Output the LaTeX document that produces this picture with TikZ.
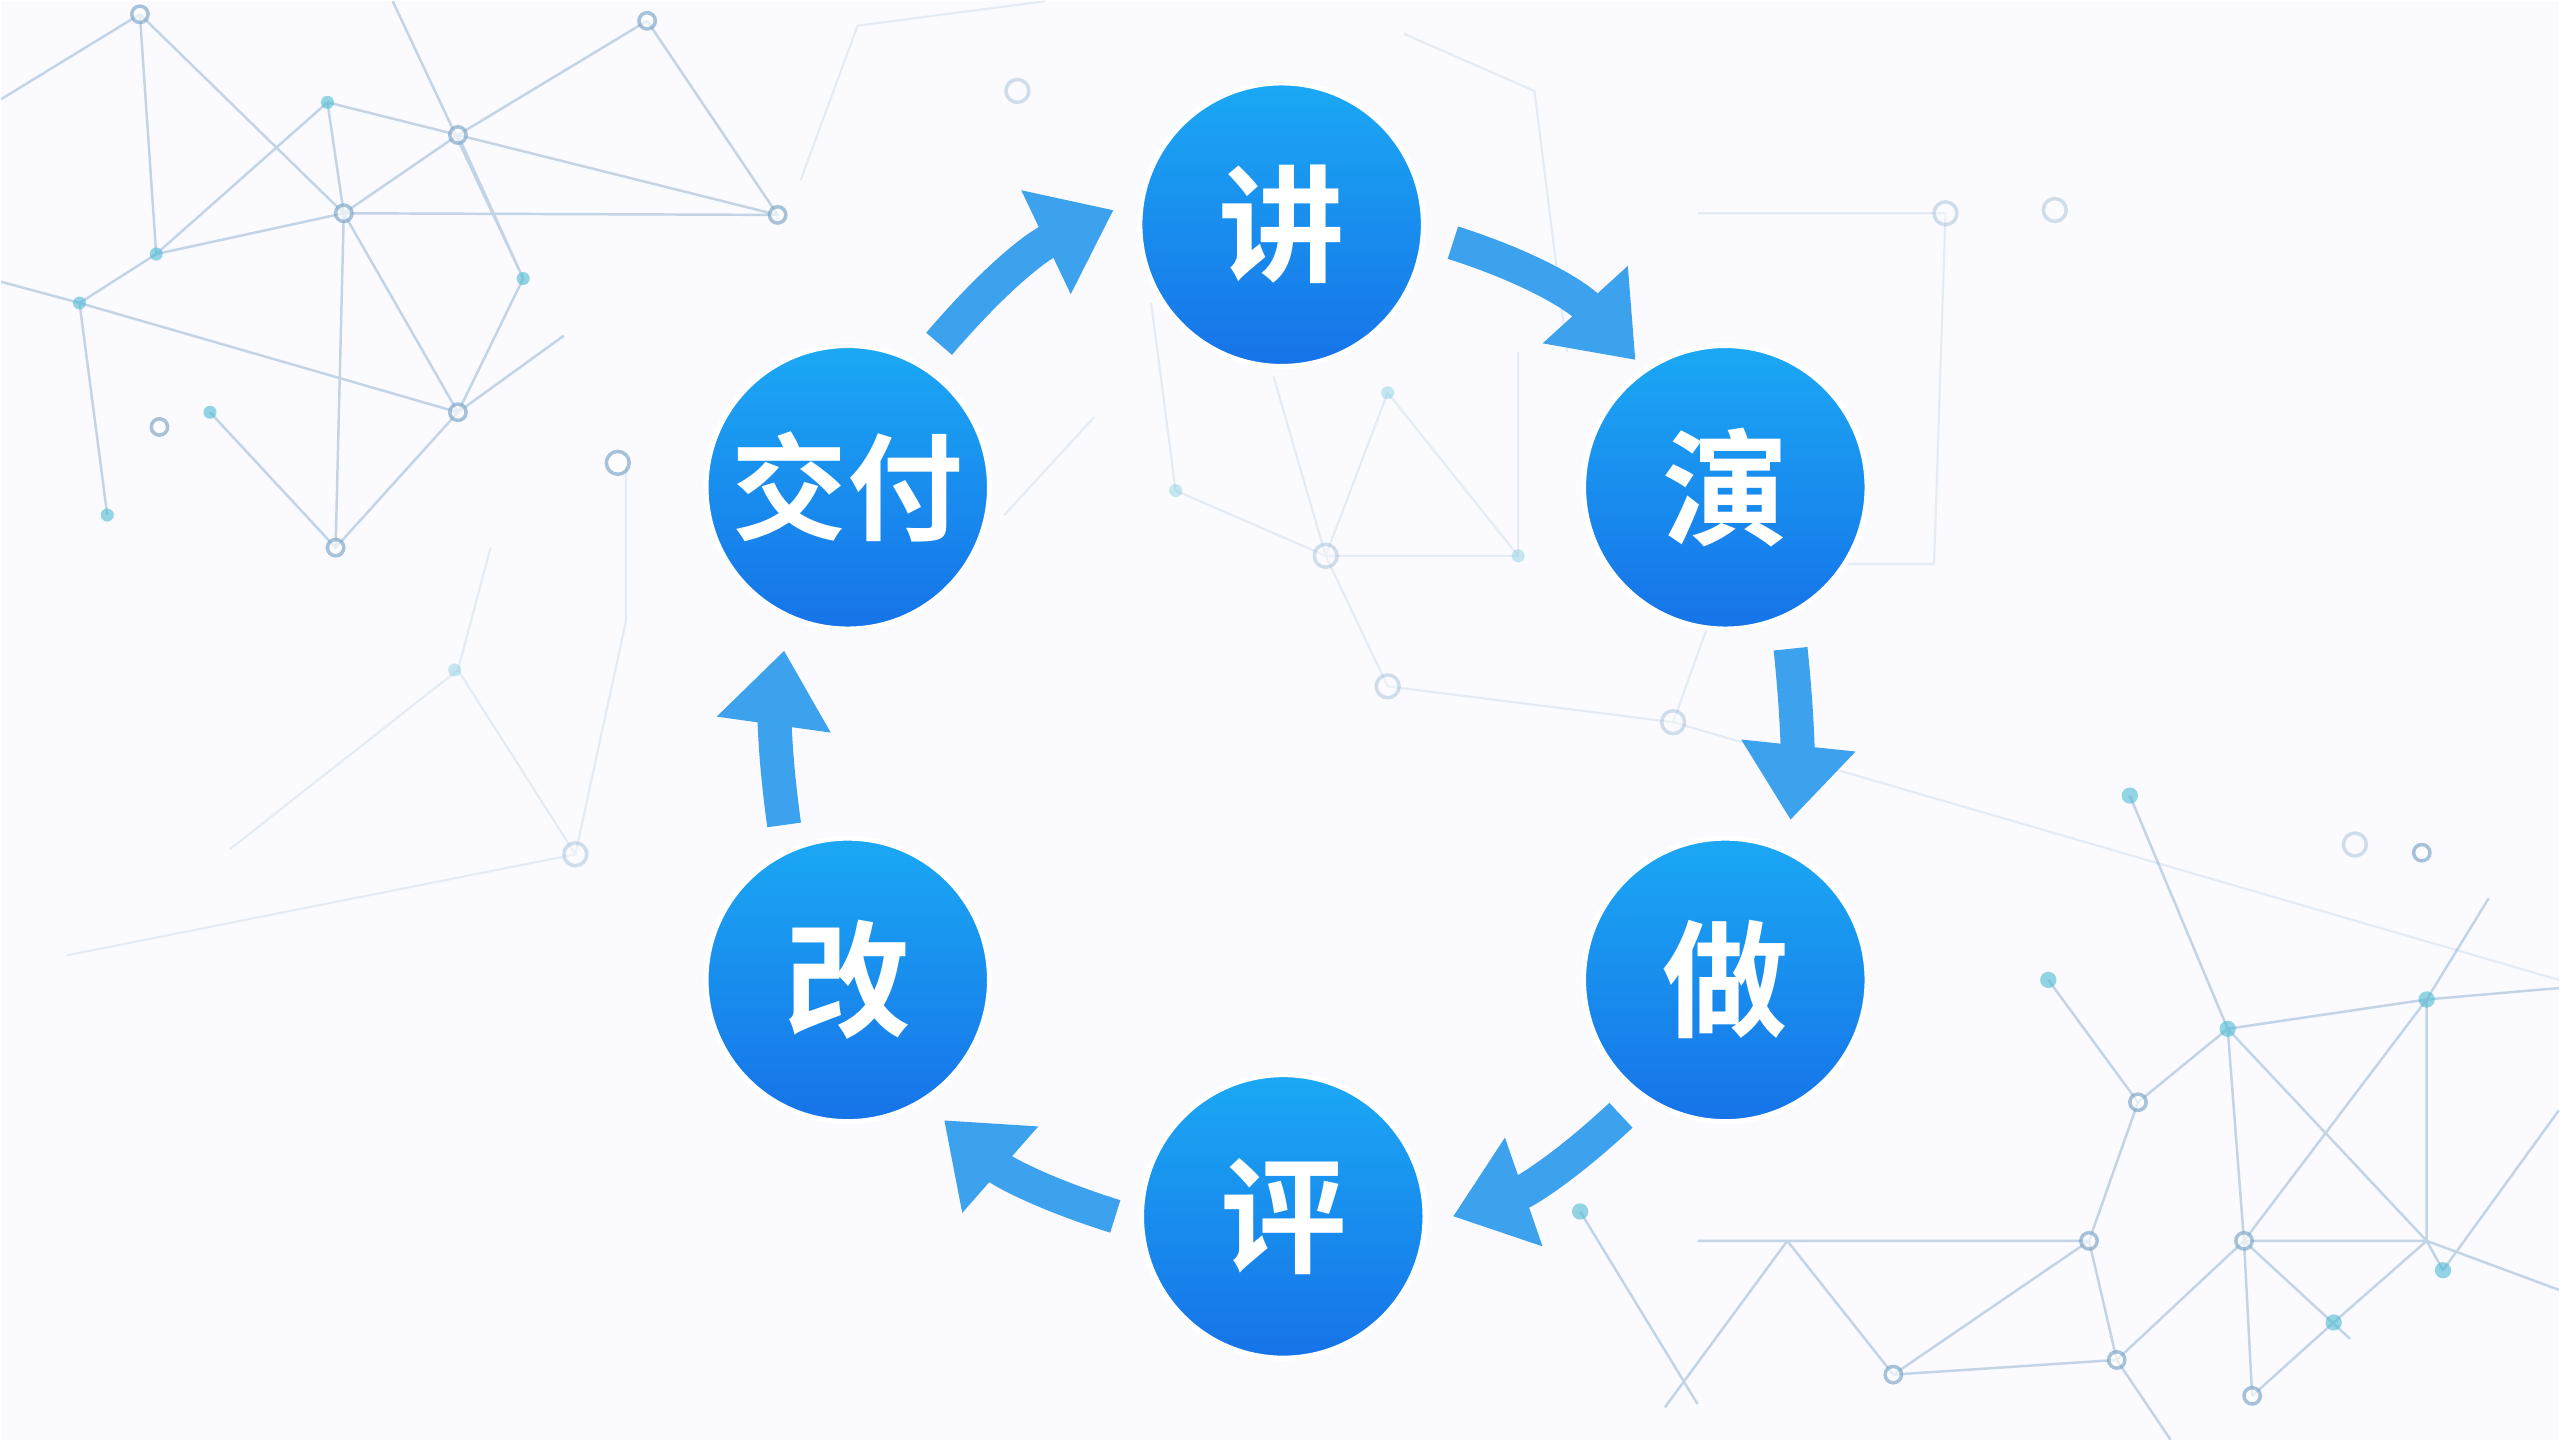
\documentclass[tikz,border=0pt]{standalone}
\usepackage{fontspec}
\newfontfamily\cjk{Noto Sans CJK SC}[BoldFont={Noto Sans CJK SC Bold}]
\usetikzlibrary{arrows.meta}
\definecolor{net}{HTML}{6E9CC0}
\definecolor{flowc}{HTML}{3DA2EE}
\definecolor{ctop}{HTML}{1BA8F4}
\definecolor{cbot}{HTML}{1673E8}
\begin{document}
\begin{tikzpicture}[x=0.016327cm,y=-0.016327cm,
  stage/.style={circle,minimum size=2.84cm,inner sep=0pt,top color=ctop,bottom color=cbot,draw=white,line width=1.5pt,text=white,font=\cjk\bfseries\fontsize{36}{36}\selectfont},
  flow/.style={draw=flowc,line width=0.34cm,-{Triangle[width=1.1cm,length=0.75cm]}},
  ln/.style={net,opacity=.4,line width=0.7pt},
  ln2/.style={net,opacity=.15,line width=0.6pt},
  dt/.style={fill=net!70!cyan,opacity=.6},
  ring/.style={draw=net,fill=white,line width=1pt,opacity=.6}]
\fill[blue!2] (0,0) rectangle (1568,882);
% background network top-left
\draw[ln] (85,8)--(95,155)--(48,185)--(65,315) (95,155)--(210,130)--(280,82)--(396,12) (200,62)--(280,82)--(320,170)--(280,252)--(205,335)--(128,252) (48,185)--(280,252)--(210,130)--(205,335) (85,8)--(210,130) (0,60)--(85,8) (210,130)--(476,131)--(396,12) (200,62)--(210,130) (280,82)--(476,131) (0,172)--(48,185) (280,252)--(345,205) (95,155)--(200,62) (240,0)--(320,170);
\foreach \p in {(95,155),(48,185),(128,252),(320,170),(65,315),(200,62)} \fill[dt] \p circle (4);
\foreach \p in {(85,8),(396,12),(476,131),(280,252),(205,335),(97,261),(210,130),(280,82)} \draw[ring] \p circle (5);
\draw[ring] (378,283) circle (7);
% faint middle network
\draw[ln2] (490,110)--(525,15)--(640,0) (720,300)--(812,340)--(930,340)--(930,215) (812,340)--(850,240)--(930,340) (705,185)--(720,300) (812,340)--(850,420)--(1025,442)--(1568,600) (780,230)--(812,340) (615,315)--(670,255) (300,335)--(280,410)--(352,523)--(40,585) (280,410)--(140,520) (383,285)--(383,380)--(352,523) (1192,130)--(1185,345)--(1060,345) (1040,130)--(1192,130) (860,20)--(940,55)--(960,215) (1025,442)--(1060,345);
\foreach \p in {(850,240),(720,300),(930,340),(278,410)} \fill[dt,opacity=.3] \p circle (4);
\foreach \p in {(623,55),(1259,128),(1443,517),(352,523),(1192,130),(812,340),(1025,442),(850,420)} \draw[ring,opacity=.3] \p circle (7);
% bottom-right network
\draw[ln] (1305,487)--(1365,630)--(1487,612)--(1568,605) (1365,630)--(1310,675)--(1280,760)--(1160,842) (1365,630)--(1375,760)--(1487,760)--(1497,778) (1365,630)--(1487,760) (1487,612)--(1487,760) (1487,612)--(1375,760)--(1380,855) (1525,550)--(1487,612) (1255,600)--(1310,675) (1280,760)--(1095,760)--(1160,842) (1095,760)--(1020,862) (1375,760)--(1297,833)--(1160,842) (1497,778)--(1568,680) (1375,760)--(1440,820) (1297,833)--(1330,882) (1487,760)--(1430,810)--(1380,855) (1487,760)--(1568,790) (1280,760)--(1297,833) (1040,760)--(1095,760) (968,742)--(1040,860);
\foreach \p in {(1305,487),(1365,630),(1487,612),(1497,778),(1255,600),(968,742),(1430,810)} \fill[dt] \p circle (5);
\foreach \p in {(1310,675),(1280,760),(1375,760),(1160,842),(1297,833),(1380,855),(1484,522)} \draw[ring] \p circle (5);
% stages
\node[stage] (j) at (785,137) {讲};
\node[stage] (y) at (1057,298) {演};
\node[stage] (z) at (1057,600) {做};
\node[stage] (p) at (786,745) {评};
\node[stage] (g) at (519,600) {改};
\node[stage,font=\cjk\bfseries\fontsize{33}{33}\selectfont] (f) at (519,298) {交付};
% flow end points
\coordinate (a1) at (575,210); \coordinate (b1) at (682,128);
\coordinate (a2) at (890,148); \coordinate (b2) at (1002,220);
\coordinate (a3) at (1097,397); \coordinate (b3) at (1097,502);
\coordinate (a4) at (993,683); \coordinate (b4) at (890,745);
\coordinate (a5) at (683,745); \coordinate (b5) at (578,686);
\coordinate (a6) at (480,505); \coordinate (b6) at (480,398);
\draw[flow] (a1) to[bend left=12] (b1);
\draw[flow] (a2) to[bend left=15] (b2);
\draw[flow] (a3) to[bend left=6] (b3);
\draw[flow] (a4) to[bend left=12] (b4);
\draw[flow] (a5) to[bend left=12] (b5);
\draw[flow] (a6) to[bend left=8] (b6);
\end{tikzpicture}
\end{document}
